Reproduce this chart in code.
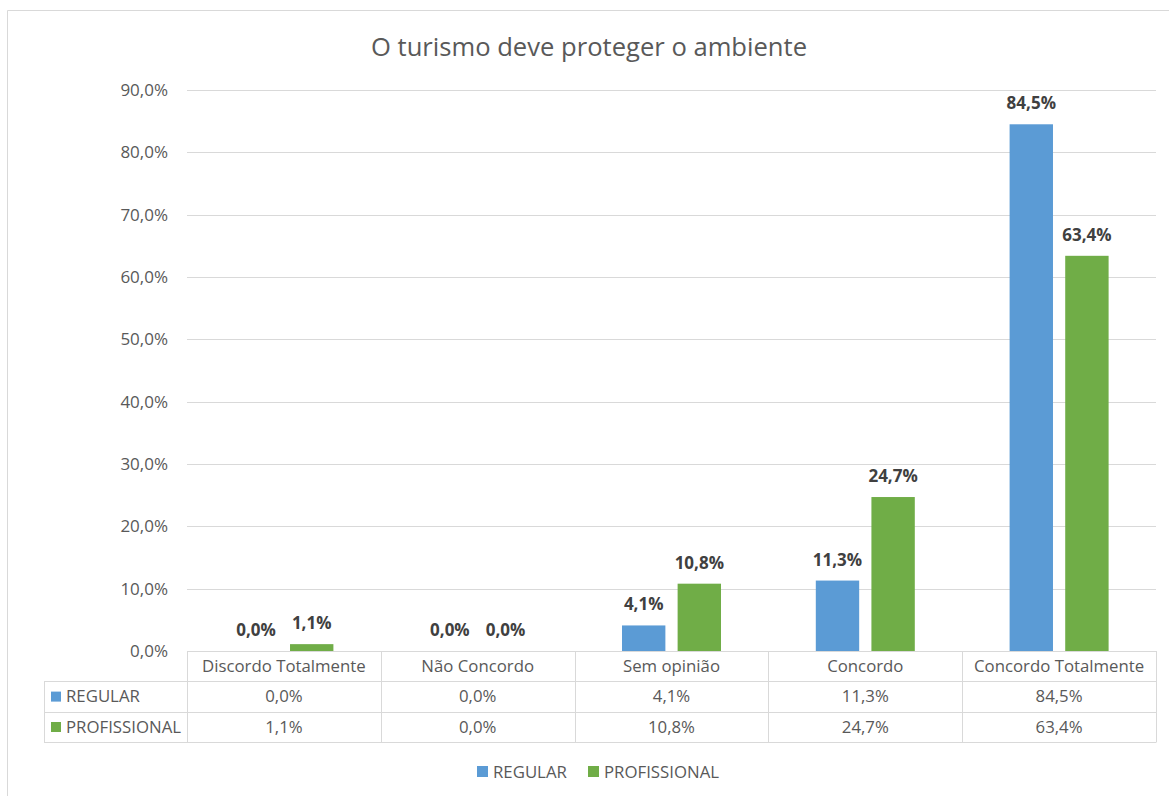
<!DOCTYPE html>
<html>
<head>
<meta charset="utf-8">
<script src="https://cdn.jsdelivr.net/npm/d3@7"></script>
<style>
  body { margin: 0; background: #fff; }
  svg { display: block; font-family: 'Open Sans', sans-serif; }
</style>
</head>
<body>
<div id="chart"></div>
<script>
// chart data
const categories = ['Discordo Totalmente', 'Não Concordo', 'Sem opinião', 'Concordo', 'Concordo Totalmente'];
const seriesNames = ['REGULAR', 'PROFISSIONAL'];
const regular = [0.0, 0.0, 4.1, 11.3, 84.5];
const profissional = [1.1, 0.0, 10.8, 24.7, 63.4];
const yTicks = [0, 10, 20, 30, 40, 50, 60, 70, 80, 90];

const colors = { REGULAR: '#5B9BD5', PROFISSIONAL: '#70AD47' };
const seriesValues = { REGULAR: regular, PROFISSIONAL: profissional };

const width = 1169;
const height = 796;
const plot = { left: 187, right: 1156, top: 90, bottom: 651 };
const rowH = 30.4;
const keyLeft = 44;
const textSize = 16.8;

// format like 84,5%
const fmt = v => d3.format('.1f')(v).replace('.', ',') + '%';

const svg = d3
  .select('#chart')
  .append('svg')
  .attr('width', width)
  .attr('height', height);

// outer chart border (runs off right/bottom edges)
svg
  .append('path')
  .attr('d', `M7.5,${height + 5} V10.5 H${width + 5}`)
  .attr('fill', 'none')
  .attr('stroke', '#d9d9d9')
  .attr('stroke-width', 1);

// title
svg
  .append('text')
  .attr('x', 589)
  .attr('y', 56)
  .attr('text-anchor', 'middle')
  .attr('font-size', 25.6)
  .attr('fill', '#595959')
  .text('O turismo deve proteger o ambiente');

const x = d3
  .scaleBand()
  .domain(categories)
  .range([plot.left, plot.right]);

const bw = x.bandwidth();
const x1 = d3
  .scaleBand()
  .domain(seriesNames)
  .range([bw / 2 - 49.5, bw / 2 + 49.5])
  .paddingInner(0.22);

const y = d3
  .scaleLinear()
  .domain([0, 90])
  .range([plot.bottom, plot.top]);

// gridlines
svg
  .append('g')
  .selectAll('line')
  .data(yTicks.filter(t => t > 0))
  .enter()
  .append('line')
  .attr('x1', plot.left)
  .attr('x2', plot.right)
  .attr('y1', d => Math.round(y(d)) + 0.5)
  .attr('y2', d => Math.round(y(d)) + 0.5)
  .attr('stroke', '#d9d9d9')
  .attr('stroke-width', 1);

// y axis labels
svg
  .append('g')
  .selectAll('text')
  .data(yTicks)
  .enter()
  .append('text')
  .attr('x', 168)
  .attr('y', d => y(d))
  .attr('dy', '0.35em')
  .attr('text-anchor', 'end')
  .attr('font-size', 17)
  .attr('fill', '#595959')
  .text(d => fmt(d));

// bars
const groups = svg
  .append('g')
  .selectAll('g')
  .data(categories)
  .enter()
  .append('g')
  .attr('transform', d => `translate(${x(d)},0)`);

const barData = (c, i) => seriesNames.map(s => ({ s, v: seriesValues[s][i] }));

groups
  .selectAll('rect')
  .data(barData)
  .enter()
  .append('rect')
  .attr('x', d => x1(d.s))
  .attr('y', d => y(d.v))
  .attr('width', x1.bandwidth())
  .attr('height', d => y(0) - y(d.v))
  .attr('fill', d => colors[d.s]);

// data labels
groups
  .selectAll('text')
  .data(barData)
  .enter()
  .append('text')
  .attr('x', d => x1(d.s) + x1.bandwidth() / 2)
  .attr('y', d => y(d.v) - 15)
  .attr('text-anchor', 'middle')
  .attr('font-size', 17)
  .attr('font-weight', 'bold')
  .attr('fill', '#404040')
  .text(d => fmt(d.v));

// data table
const table = svg.append('g');
const tableBottom = plot.bottom + rowH * 3;
const grid = '#d9d9d9';

// horizontal lines
[0, 1, 2, 3].forEach(r => {
  table
    .append('line')
    .attr('x1', r === 0 ? plot.left : keyLeft)
    .attr('x2', plot.right)
    .attr('y1', Math.round(plot.bottom + r * rowH) + 0.5)
    .attr('y2', Math.round(plot.bottom + r * rowH) + 0.5)
    .attr('stroke', grid);
});

// vertical lines
const vx = categories.map(c => x(c)).concat([plot.right]);
vx.forEach(v => {
  table
    .append('line')
    .attr('x1', Math.round(v) + 0.5)
    .attr('x2', Math.round(v) + 0.5)
    .attr('y1', plot.bottom)
    .attr('y2', Math.round(tableBottom) + 0.5)
    .attr('stroke', grid);
});
table
  .append('line')
  .attr('x1', keyLeft + 0.5)
  .attr('x2', keyLeft + 0.5)
  .attr('y1', Math.round(plot.bottom + rowH) + 0.5)
  .attr('y2', Math.round(tableBottom) + 0.5)
  .attr('stroke', grid);

// category header row
table
  .selectAll('.cat')
  .data(categories)
  .enter()
  .append('text')
  .attr('class', 'cat')
  .attr('x', d => x(d) + bw / 2)
  .attr('y', plot.bottom + rowH / 2)
  .attr('dy', '0.35em')
  .attr('text-anchor', 'middle')
  .attr('font-size', textSize)
  .attr('fill', '#595959')
  .text(d => d);

// series rows
seriesNames.forEach((s, r) => {
  const cy = plot.bottom + rowH * (r + 1.5);
  table
    .append('rect')
    .attr('x', 51)
    .attr('y', cy - 5)
    .attr('width', 10)
    .attr('height', 10)
    .attr('fill', colors[s]);
  table
    .append('text')
    .attr('x', 66)
    .attr('y', cy)
    .attr('dy', '0.35em')
    .attr('font-size', textSize)
    .attr('fill', '#595959')
    .text(s);
  table
    .selectAll('.val' + r)
    .data(seriesValues[s])
    .enter()
    .append('text')
    .attr('x', (d, i) => x(categories[i]) + bw / 2)
    .attr('y', cy)
    .attr('dy', '0.35em')
    .attr('text-anchor', 'middle')
    .attr('font-size', textSize)
    .attr('fill', '#595959')
    .text(d => fmt(d));
});

// legend
const legend = svg.append('g').attr('transform', 'translate(477, 772)');
const legendX = [0, 111];
seriesNames.forEach((s, i) => {
  legend
    .append('rect')
    .attr('x', legendX[i])
    .attr('y', -6)
    .attr('width', 11)
    .attr('height', 11)
    .attr('fill', colors[s]);
  legend
    .append('text')
    .attr('x', legendX[i] + 16)
    .attr('y', 0)
    .attr('dy', '0.35em')
    .attr('font-size', textSize)
    .attr('fill', '#595959')
    .text(s);
});
</script>
</body>
</html>
